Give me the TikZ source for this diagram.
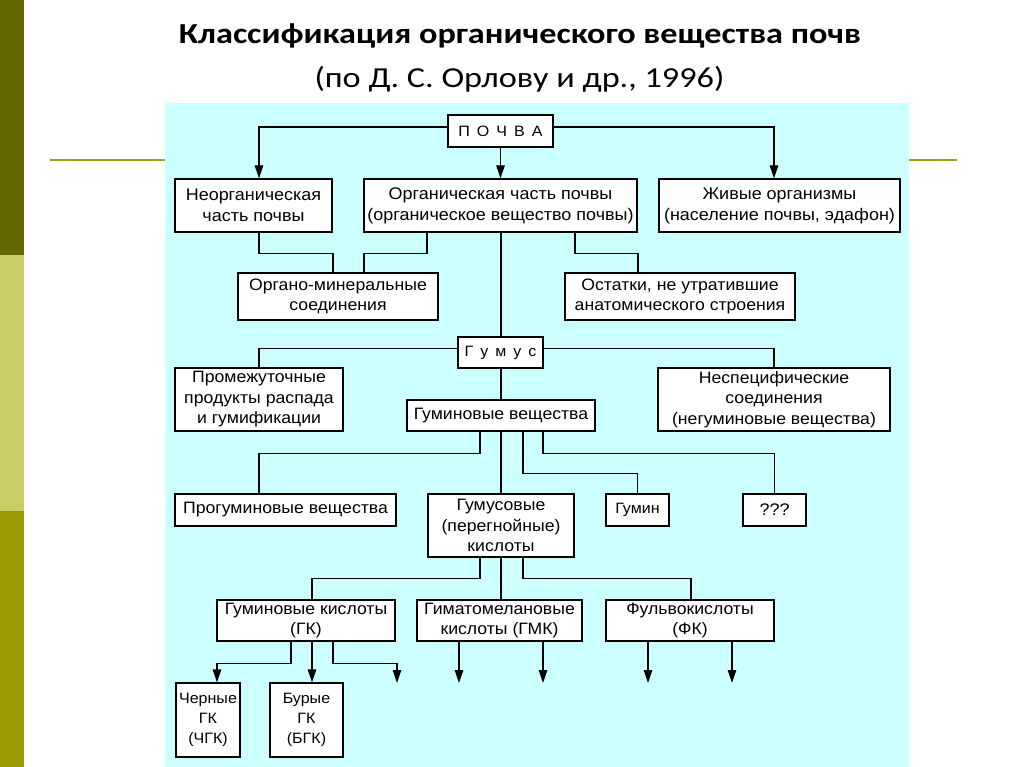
\documentclass[tikz,border=0pt]{standalone}
\usepackage{fontspec}
\setmainfont{Liberation Sans}[FakeStretch=1.07]
\newfontfamily\titlefont{Carlito}[FakeStretch=1.18]
\usetikzlibrary{arrows.meta}
\definecolor{panelc}{RGB}{204,255,255}
\definecolor{darkolive}{RGB}{102,102,0}
\definecolor{lightolive}{RGB}{204,204,102}
\definecolor{midolive}{RGB}{153,153,0}
\definecolor{rulec}{RGB}{160,160,20}
\newcommand{\spc}{\hskip 7pt}
\begin{document}
\begin{tikzpicture}[x=1pt,y=-1pt,
  box/.style={draw,fill=white,line width=1.3pt,inner sep=0pt,align=center,
    font=\fontsize{16.5}{20.5}\selectfont},
  bigtext/.style={font=\fontsize{16.8}{21}\selectfont},
  smalltext/.style={font=\fontsize{15}{20}\selectfont},
  sz/.style 2 args={minimum width=#1pt,minimum height=#2pt},
  ln/.style={line width=1.3pt},
  arr/.style={ln,-{Triangle[length=13pt,width=8.5pt]}}]
\useasboundingbox (0,0) rectangle (1024,767);
% side bar
\fill[darkolive] (0,0) rectangle (24,255);
\fill[lightolive] (0,255) rectangle (24,511);
\fill[midolive] (0,511) rectangle (24,767);
% rule
\draw[rulec,line width=2pt] (50,160.5) -- (957,160.5);
% panel
\fill[panelc] (165,103) rectangle (909,767);
% title
\node[anchor=base,font=\titlefont\bfseries\fontsize{29}{34}\selectfont] (title) at (520,44) {Классификация органического вещества почв};
\node[anchor=base,font=\titlefont\fontsize{29}{34}\selectfont] (subtitle) at (519.5,88) {(по Д. С. Орлову и др., 1996)};
% boxes
\node[box,sz={105}{32},font=\fontsize{15}{18}\selectfont] (pochva) at (500.5,131) {П\spc О\spc Ч\spc В\spc А};
\node[box,bigtext,sz={157}{53}] (neorg) at (253.5,205.5) {Неорганическая\\часть почвы};
\node[box,bigtext,sz={273}{53}] (org) at (500.5,205.5) {Органическая часть почвы\\(органическое вещество почвы)};
\node[box,bigtext,sz={241}{53}] (zhiv) at (779.5,205.5) {Живые организмы\\(население почвы, эдафон)};
\node[box,sz={200}{47}] (orgmin) at (338,296.5) {Органо-минеральные\\соединения};
\node[box,sz={230}{47}] (ost) at (680,296.5) {Остатки, не утратившие\\анатомического строения};
\node[box,sz={85}{31},font=\fontsize{15}{18}\selectfont] (gumus) at (500.5,352.5) {Г\spc у\spc м\spc у\spc с};
\node[box,sz={168}{63}] (prom) at (259,399.5) {Промежуточные\\продукты распада\\и гумификации};
\node[box,sz={188}{31}] (gumv) at (501,415.5) {Гуминовые вещества};
\node[box,sz={232}{63}] (nespec) at (774,399.5) {Неспецифические\\соединения\\(негуминовые вещества)};
\node[box,sz={221}{32}] (progum) at (285.5,510) {Прогуминовые вещества};
\node[box,sz={146}{63}] (gumk) at (501,525.5) {Гумусовые\\(перегнойные)\\кислоты};
\node[box,smalltext,sz={63}{32}] (gumin) at (637.5,510) {Гумин};
\node[box,bigtext,sz={63}{32}] (qqq) at (774.5,510) {???};
\node[box,sz={178}{41}] (gk) at (306,620.5) {Гуминовые кислоты\\(ГК)};
\node[box,sz={165}{41}] (gmk) at (499.5,620.5) {Гиматомелановые\\кислоты (ГМК)};
\node[box,sz={168}{41}] (fk) at (690,620.5) {Фульвокислоты\\(ФК)};
\node[box,smalltext,sz={64}{74}] (cher) at (208,720) {Черные\\ГК\\(ЧГК)};
\node[box,smalltext,sz={73}{74}] (bur) at (306.5,720) {Бурые\\ГК\\(БГК)};
% free arrow ends
\coordinate (e1) at (397,683);
\coordinate (e2) at (459,683);
\coordinate (e3) at (543,683);
\coordinate (e4) at (648,683);
\coordinate (e5) at (732,683);
% connectors
\draw[arr] ([yshift=4pt]pochva.west) -| (neorg.north -| 259,0);
\draw[arr] ([yshift=4pt]pochva.east) -| (zhiv.north -| 774,0);
\draw[arr] (pochva.south) -- (org.north -| pochva.south);
\draw[ln] (neorg.south -| 259,0) -- ++(0,21) -| (orgmin.north -| 333,0);
\draw[ln] (org.south -| 427,0) -- ++(0,21) -| (orgmin.north -| 364,0);
\draw[ln] (org.south -| 575,0) -- ++(0,21) -| (ost.north -| 638,0);
\draw[ln] (org.south -| 501,0) -- (gumus.north -| 501,0);
\draw[ln] ([yshift=4pt]gumus.west) -| (prom.north -| 259,0);
\draw[ln] ([yshift=4pt]gumus.east) -| (nespec.north -| 774,0);
\draw[ln] (gumus.south -| 501,0) -- (gumv.north -| 501,0);
\draw[ln] (gumv.south -| 480,0) -- ++(0,22) -| (progum.north -| 259,0);
\draw[ln] (gumv.south -| 501,0) -- (gumk.north -| 501,0);
\draw[ln] (gumv.south -| 523,0) -- ++(0,42) -| (gumin.north);
\draw[ln] (gumv.south -| 543,0) -- ++(0,22) -| (qqq.north);
\draw[ln] (gumk.south -| 480,0) -- ++(0,21) -| (gk.north -| 312,0);
\draw[ln] (gumk.south -| 501,0) -- (gmk.north -| 501,0);
\draw[ln] (gumk.south -| 523,0) -- ++(0,21) -| (fk.north -| 691,0);
\draw[arr] (gk.south -| 291,0) -- ++(0,22) -| (cher.north -| 217,0);
\draw[arr] (gk.south -| 312,0) -- (bur.north -| 312,0);
\draw[arr] (gk.south -| 333,0) -- ++(0,22) -| (e1);
\draw[arr] (gmk.south -| 459,0) -- (e2);
\draw[arr] (gmk.south -| 543,0) -- (e3);
\draw[arr] (fk.south -| 648,0) -- (e4);
\draw[arr] (fk.south -| 732,0) -- (e5);
\end{tikzpicture}
\end{document}
